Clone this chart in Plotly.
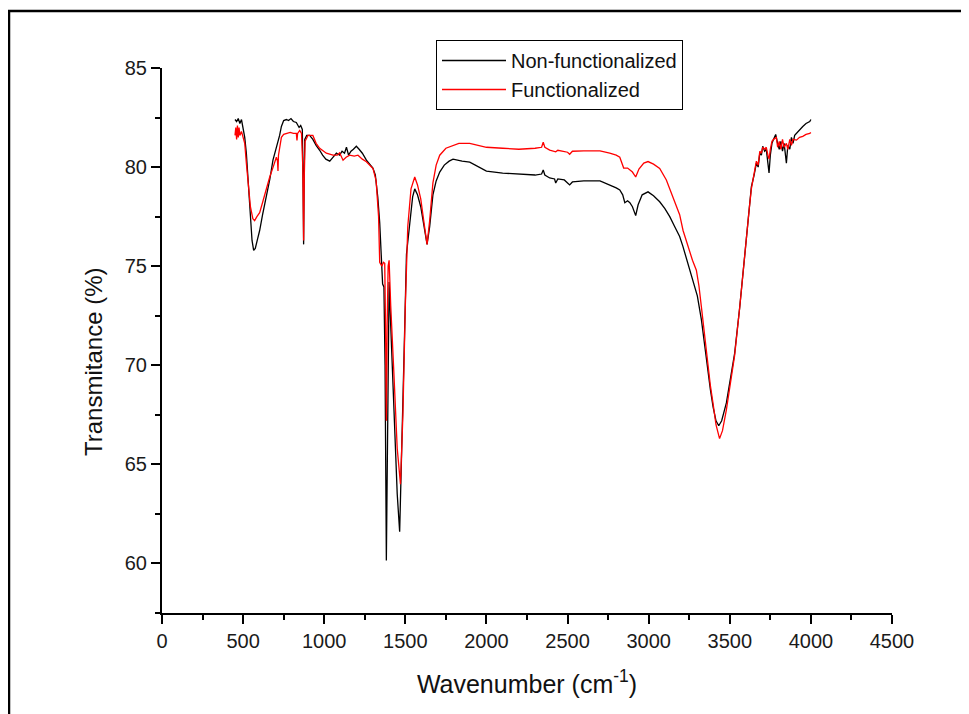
import plotly.graph_objects as go

# Non-functionalized (black)
wn_nf = [450, 460, 470, 480, 490, 500, 510, 520, 530, 541, 555, 565, 575, 590, 602, 620, 643, 665, 684, 700,
         715, 725, 736, 750, 767, 780, 795, 810, 828, 845, 855, 865, 870, 873, 876, 880, 892, 910, 930, 950,
         972, 990, 1010, 1034, 1055, 1075, 1095, 1110, 1125, 1137, 1150, 1165, 1180, 1198, 1215, 1235, 1260, 1280, 1300, 1315,
         1330, 1342, 1352, 1360, 1368, 1375, 1383, 1390, 1395, 1400, 1410, 1430, 1450, 1465, 1480, 1495, 1507, 1527, 1545, 1558,
         1575, 1595, 1615, 1634, 1650, 1670, 1690, 1712, 1740, 1770, 1794, 1820, 1850, 1897, 1950, 2000, 2100, 2200, 2300, 2340,
         2350, 2360, 2390, 2420, 2427, 2440, 2480, 2500, 2513, 2530, 2600, 2700, 2760, 2800, 2822, 2840, 2853, 2870, 2884, 2900,
         2920, 2935, 2960, 2996, 3030, 3068, 3100, 3130, 3160, 3191, 3211, 3240, 3273, 3300, 3325, 3356, 3380, 3397, 3415, 3432,
         3450, 3479, 3505, 3530, 3561, 3580, 3602, 3620, 3633, 3650, 3664, 3675, 3685, 3695, 3703, 3715, 3725, 3735, 3742, 3750,
         3760, 3770, 3783, 3795, 3805, 3815, 3825, 3835, 3849, 3858, 3870, 3880, 3890, 3900, 3911, 3930, 3950, 3970, 3993, 4000]
t_nf = [82.4, 82.3, 82.45, 82.2, 82.4, 82.0, 81.5, 80.7, 79.5, 77.8, 76.3, 75.8, 75.9, 76.4, 76.8, 77.6, 78.5, 79.4, 80.35, 80.8,
        81.2, 81.6, 82.05, 82.35, 82.4, 82.35, 82.45, 82.3, 82.25, 82.0, 82.1, 81.9, 79.0, 76.1, 79.5, 81.4, 81.6, 81.6, 81.4, 81.1,
        80.85, 80.6, 80.4, 80.3, 80.5, 80.7, 80.6, 80.8, 80.7, 81.0, 80.6, 80.8, 80.9, 81.05, 80.9, 80.7, 80.35, 80.15, 79.95, 79.6,
        78.5, 77.2, 74.9, 74.1, 73.95, 70.0, 60.15, 67.0, 73.0, 74.2, 72.0, 68.0, 63.5, 61.6, 66.0, 71.5, 75.6, 77.3, 78.5, 78.9,
        78.6, 78.0, 77.0, 76.1, 77.0, 78.6, 79.3, 79.75, 80.1, 80.3, 80.4, 80.35, 80.3, 80.25, 80.0, 79.8, 79.7, 79.65, 79.6, 79.65,
        79.85, 79.6, 79.45, 79.4, 79.2, 79.4, 79.35, 79.2, 79.1, 79.25, 79.3, 79.3, 79.1, 78.95, 78.85, 78.6, 78.2, 78.3, 78.2, 78.0,
        77.55, 78.1, 78.6, 78.75, 78.55, 78.25, 77.9, 77.5, 77.0, 76.5, 76.0, 75.2, 74.3, 73.5, 72.3, 70.25, 68.8, 67.9, 67.2, 66.95,
        67.2, 68.1, 69.3, 70.6, 72.9, 74.6, 76.5, 77.9, 79.0, 79.6, 80.2, 80.0, 80.7, 80.6, 81.05, 80.8, 80.9, 80.2, 79.7, 80.6,
        81.2, 81.4, 81.65, 81.2, 80.9, 81.3, 80.8, 81.2, 80.2, 81.1, 80.9, 81.5, 81.2, 81.6, 81.7, 81.9, 82.05, 82.2, 82.3, 82.4]

# Functionalized (red)
wn_f = [450, 455, 460, 465, 470, 475, 480, 490, 500, 510, 520, 530, 545, 560, 571, 585, 602, 623, 645, 664,
        685, 705, 712, 715, 718, 736, 750, 767, 790, 810, 828, 832, 836, 849, 860, 868, 873, 877, 882, 900,
        930, 950, 972, 1013, 1054, 1080, 1095, 1116, 1135, 1157, 1185, 1208, 1235, 1260, 1280, 1301, 1320, 1335, 1342, 1355,
        1365, 1373, 1378, 1383, 1388, 1394, 1400, 1410, 1430, 1450, 1470, 1485, 1500, 1515, 1535, 1558, 1575, 1595, 1615, 1634,
        1650, 1670, 1690, 1712, 1750, 1794, 1830, 1897, 1950, 2000, 2100, 2200, 2300, 2340, 2350, 2360, 2390, 2427, 2440, 2500,
        2513, 2530, 2600, 2700, 2760, 2800, 2822, 2846, 2870, 2884, 2900, 2920, 2940, 2970, 2996, 3030, 3068, 3109, 3140, 3171,
        3191, 3212, 3243, 3270, 3294, 3310, 3325, 3356, 3380, 3397, 3415, 3437, 3455, 3479, 3505, 3530, 3561, 3580, 3602, 3620,
        3633, 3650, 3664, 3675, 3685, 3695, 3703, 3715, 3725, 3735, 3742, 3750, 3760, 3770, 3787, 3795, 3805, 3815, 3825, 3835,
        3849, 3858, 3870, 3880, 3890, 3911, 3930, 3950, 3970, 3993, 4000]
t_f = [81.6, 82.0, 81.4, 82.1, 81.5, 82.0, 81.6, 81.8, 81.5, 81.2, 80.2, 79.3, 78.0, 77.4, 77.3, 77.5, 77.7, 78.3, 79.0, 79.5,
       80.0, 80.5, 80.3, 79.8, 80.6, 81.5, 81.65, 81.7, 81.75, 81.7, 81.7, 81.35, 81.7, 81.85, 81.7, 80.0, 76.3, 79.5, 81.3, 81.6,
       81.6, 81.2, 80.95, 80.7, 80.6, 80.6, 80.72, 80.35, 80.5, 80.6, 80.55, 80.6, 80.4, 80.27, 80.1, 79.93, 79.3, 77.5, 75.2, 75.0,
       75.2, 75.15, 72.0, 67.2, 72.0, 75.0, 75.3, 73.0, 69.5, 65.8, 64.0, 67.5, 73.0, 77.0, 78.9, 79.5, 79.1, 78.4, 77.2, 76.1,
       77.3, 79.2, 80.1, 80.6, 80.95, 81.1, 81.2, 81.2, 81.1, 81.0, 80.95, 80.9, 80.95, 81.0, 81.25, 81.0, 80.86, 80.77, 80.85, 80.75,
       80.65, 80.8, 80.82, 80.82, 80.7, 80.6, 80.5, 79.95, 79.95, 79.85, 79.75, 79.5, 79.9, 80.2, 80.28, 80.15, 79.93, 79.35, 78.7, 78.0,
       77.6, 76.8, 75.97, 75.3, 74.8, 74.0, 72.95, 70.6, 69.0, 68.07, 67.0, 66.3, 66.7, 67.75, 69.1, 70.5, 72.9, 74.6, 76.5, 77.9,
       78.9, 79.8, 80.3, 80.1, 80.8, 80.7, 81.0, 80.9, 81.0, 80.6, 80.4, 80.9, 81.3, 81.4, 81.5, 81.0, 81.3, 80.9, 81.4, 81.0,
       81.2, 80.9, 81.4, 81.1, 81.4, 81.36, 81.5, 81.55, 81.65, 81.7, 81.75]

x_ticks = [0, 500, 1000, 1500, 2000, 2500, 3000, 3500, 4000, 4500]
y_ticks = [60, 65, 70, 75, 80, 85]

FONT = "Liberation Sans, Arial, sans-serif"
# the page body adds an 8px offset, so the figure is 8px smaller and every reference position is shifted by 8
OFF = 8
W, H = 969 - OFF, 714 - OFF
L, T = 162 - OFF, 68 - OFF
R = W - (892 - OFF)
B = H - (613 - OFF)

fig = go.Figure()
fig.add_trace(go.Scatter(x=wn_nf, y=t_nf, mode="lines", name="Non-functionalized",
                         line=dict(color="#000000", width=1.3)))
fig.add_trace(go.Scatter(x=wn_f, y=t_f, mode="lines", name="Functionalized",
                         line=dict(color="#ff0000", width=1.3)))

axis_common = dict(showgrid=False, zeroline=False, showline=True, linecolor="black", linewidth=2,
                   ticks="outside", ticklen=9, tickwidth=2, tickcolor="black",
                   tickfont=dict(family=FONT, size=20, color="#1a1a1a"), mirror=False)

fig.update_xaxes(range=[0, 4500], tickmode="array", tickvals=x_ticks,
                 ticktext=[str(v) for v in x_ticks],
                 minor=dict(dtick=250, ticks="outside", ticklen=5, tickwidth=2, tickcolor="black"),
                 title=dict(text="Wavenumber (cm<sup>-1</sup>)", font=dict(family=FONT, size=25, color="#111"), standoff=24),
                 **axis_common)
fig.update_yaxes(range=[57.5, 85], tickmode="array", tickvals=y_ticks,
                 ticktext=[str(v) for v in y_ticks],
                 minor=dict(dtick=2.5, ticks="outside", ticklen=5, tickwidth=2, tickcolor="black"),
                 **axis_common)

pw = W - L - R
ph = H - T - B
def px_x(p):
    # p is a reference-image x coordinate
    return (p - OFF - L) / pw
def px_y(p):
    return (H - B - (p - OFF)) / ph

# outer frame of the figure
fig.add_shape(type="rect", xref="paper", yref="paper",
              x0=px_x(9), x1=px_x(990), y0=px_y(740), y1=px_y(11),
              line=dict(color="black", width=2.5), fillcolor="rgba(0,0,0,0)", layer="above")

# y-axis title
fig.add_annotation(text="Transmitance (%)", xref="paper", yref="paper",
                   x=px_x(94), y=px_y(362), textangle=-90, showarrow=False,
                   font=dict(family=FONT, size=24, color="#111"), xanchor="center", yanchor="middle")

fig.update_layout(
    width=W, height=H,
    margin=dict(l=L, r=R, t=T, b=B),
    paper_bgcolor="white", plot_bgcolor="white",
    showlegend=True,
    legend=dict(x=px_x(436), y=px_y(40), xanchor="left", yanchor="top",
                bordercolor="black", borderwidth=1, bgcolor="white",
                font=dict(family=FONT, size=20, color="#111"),
                tracegroupgap=0, itemwidth=64),
    font=dict(family=FONT),
)

fig.write_html("out.html")
